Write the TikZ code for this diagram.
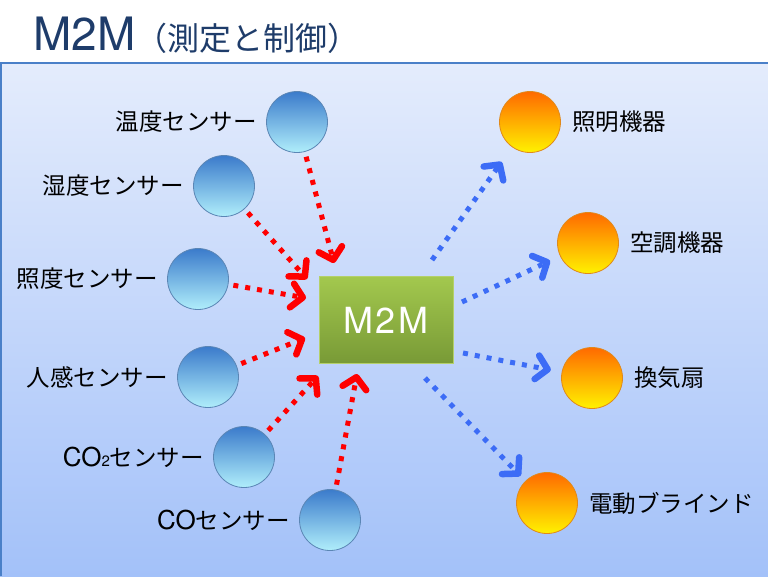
\documentclass[tikz,border=0pt]{standalone}
\usepackage{fontspec}
\setmainfont{TeX Gyre Heros}
\newfontfamily\jp{Noto Sans CJK JP}
\usetikzlibrary{positioning,arrows.meta}

\definecolor{titleblue}{HTML}{1E3C6A}
\definecolor{panetop}{HTML}{E4ECFC}
\definecolor{panebot}{HTML}{A3C1F9}
\definecolor{paneedge}{HTML}{4A80C8}
\definecolor{sensortop}{HTML}{3B7BCB}
\definecolor{sensorbot}{HTML}{B0EEFB}
\definecolor{sensoredge}{HTML}{5B86B5}
\definecolor{devicetop}{HTML}{FF6A00}
\definecolor{devicemid}{HTML}{FF9E00}
\definecolor{devicebot}{HTML}{FFF200}
\definecolor{deviceedge}{HTML}{E0891B}
\definecolor{boxtop}{HTML}{A3C84E}
\definecolor{boxbot}{HTML}{789A36}
\definecolor{boxedge}{HTML}{B4D06A}
\definecolor{arrred}{HTML}{FF0000}
\definecolor{arrblue}{HTML}{3C6CF6}

\begin{document}
\begin{tikzpicture}[x=1pt,y=-1pt,
sensor/.style={circle,minimum size=61pt,inner sep=0pt,draw=sensoredge,line width=0.8pt,top color=sensortop,bottom color=sensorbot},
device/.style={circle,minimum size=61pt,inner sep=0pt,draw=deviceedge,line width=0.8pt,top color=devicetop,middle color=devicemid,bottom color=devicebot},
lbl/.style={font=\fontsize{23.5}{25}\selectfont\jp,inner sep=0pt},
inarr/.style={arrred,line width=5pt,dash pattern=on 5pt off 7pt,shorten <=5pt,
  -{Straight Barb[length=11pt,width=24pt,line width=6.5pt,round]}},
outarr/.style={arrblue,line width=5pt,dash pattern=on 5pt off 7pt,
  -{Straight Barb[length=11pt,width=24pt,line width=6.5pt,round]}}]
\useasboundingbox (0,0) rectangle (768,576);

% background panel and title
\path[top color=panetop,bottom color=panebot] (0,63) rectangle (768,576);
\draw[paneedge,line width=1.2pt] (768,63) -- (1,63) -- (1,576);
\node[anchor=base west,inner sep=0pt,text=titleblue] (title) at (33,50)
  {\fontsize{46}{50}\selectfont M2M{\jp\fontsize{32}{34}\selectfont （測定と制御）}};

% center box
\node[draw=boxedge,line width=0.8pt,top color=boxtop,bottom color=boxbot,
  minimum width=134pt,minimum height=87pt,text=white,
  font=\fontsize{36}{38}\selectfont\addfontfeature{LetterSpace=8}] (m2m) at (386,320) {M2M};

% sensors
\node[sensor] (temp) at (297,122) {};
\node[sensor] (humid) at (224,186) {};
\node[sensor] (illum) at (198,279) {};
\node[sensor] (human) at (208,377) {};
\node[sensor] (cotwo) at (244,457) {};
\node[sensor] (co) at (330,520) {};
\node[lbl,left=9pt of temp] {温度センサー};
\node[lbl,left=9pt of humid] {湿度センサー};
\node[lbl,left=9pt of illum] {照度センサー};
\node[lbl,left=9pt of human] {人感センサー};
\node[lbl,left=9pt of cotwo] {{\rmfamily\fontsize{26}{26}\selectfont CO{\fontsize{15}{15}\selectfont 2}}センサー};
\node[lbl,left=9pt of co] {{\rmfamily\fontsize{26}{26}\selectfont CO}センサー};

% devices
\node[device] (light) at (530,122) {};
\node[device] (aircon) at (588,243) {};
\node[device] (fan) at (592,378) {};
\node[device] (blind) at (547,503) {};
\node[lbl,right=11pt of light] {照明機器};
\node[lbl,right=11pt of aircon] {空調機器};
\node[lbl,right=11pt of fan] {換気扇};
\node[lbl,right=11pt of blind] {電動ブラインド};

% arrow ends at the box
\coordinate (in1) at (334,263);
\coordinate (in2) at (307,279);
\coordinate (in3) at (306,298);
\coordinate (in4) at (305,338);
\coordinate (in5) at (318,376);
\coordinate (in6) at (357,374);
\coordinate (out1) at (432,260);
\coordinate (out2) at (462,302);
\coordinate (out3) at (463,353);
\coordinate (out4) at (425,378);

% measurement arrows
\draw[inarr] (temp) -- (in1);
\draw[inarr] (humid) -- (in2);
\draw[inarr] (illum) -- (in3);
\draw[inarr] (human) -- (in4);
\draw[inarr] (cotwo) -- (in5);
\draw[inarr] (co) -- (in6);

% control arrows
\draw[outarr,shorten >=18pt] (out1) -- (light);
\draw[outarr,shorten >=11pt] (out2) -- (aircon);
\draw[outarr,shorten >=11pt] (out3) -- (fan);
\draw[outarr,shorten >=7pt] (out4) -- (blind);
\end{tikzpicture}
\end{document}
